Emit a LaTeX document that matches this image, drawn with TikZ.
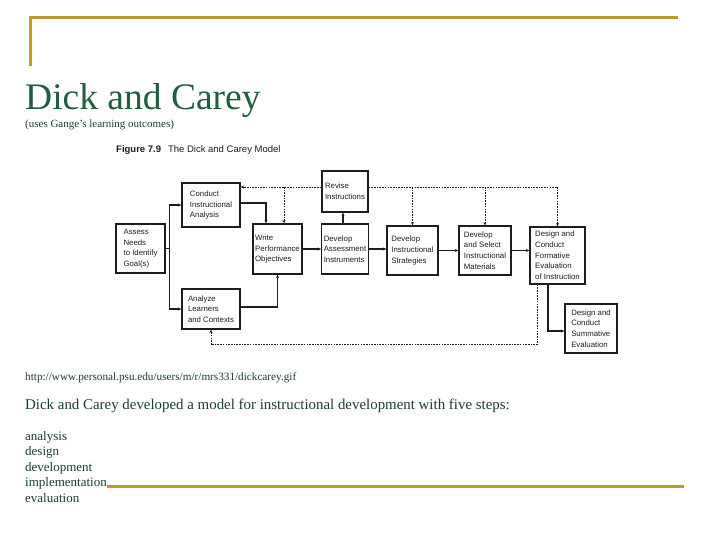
\documentclass[tikz,border=0pt]{standalone}
\usepackage{fontspec}
\setmainfont{Liberation Serif}
\setsansfont{Liberation Sans}
\usetikzlibrary{arrows.meta,positioning,calc}
\definecolor{dcgold}{HTML}{C09A2E}
\definecolor{dcgreen}{HTML}{1F5F3F}
\definecolor{dcbody}{HTML}{1A3F2C}
\definecolor{scan}{HTML}{1E1E1E}
\tikzset{
  stepbox/.style={draw=scan, line width=1.2pt, inner xsep=2pt, inner ysep=1pt,
                  align=left, text=scan, font=\sffamily\fontsize{7.8}{10.7}\selectfont},
  arr/.style={-{Stealth[length=3.5pt,width=3pt]}, line width=1.1pt, color=scan},
  fb/.style={-{Stealth[length=3.5pt,width=3pt]}, line width=0.8pt, color=scan,
             dash pattern=on 1.6pt off 1.1pt},
  rule/.style={draw=dcgold, line width=3pt},
  slide/.style={anchor=base west, inner sep=0pt, text=dcbody}}

\begin{document}
\begin{tikzpicture}[x=1pt, y=-1pt]
  \useasboundingbox[fill=white] (0,0) rectangle (720,540);
  \draw[rule] (30,66) -- (30,18) -- (678,18);
  \node[slide, text=dcgreen, font=\fontsize{37.5}{40}\selectfont] (title) at (25,110) {Dick and Carey};
  \node[slide, font=\fontsize{11}{12}\selectfont] (sub) at (25,128) {(uses Gange's learning outcomes)};

  \node[slide, text=scan, font=\sffamily\fontsize{9.5}{11}\selectfont] (fig) at (116,153)
    {\textbf{Figure 7.9}\hspace{7pt}The Dick and Carey Model};

  \node[stepbox, minimum width=49pt, minimum height=49pt] (assess) at (140.5,248.5)
    {Assess\\Needs\\to Identify\\Goal(s)};
  \node[stepbox, minimum width=58pt, minimum height=44pt] (conduct) at (211,205)
    {Conduct\\Instructional\\Analysis};
  \node[stepbox, minimum width=58pt, minimum height=40pt] (analyze) at (211,309)
    {Analyze\\Learners\\and Contexts};
  \node[stepbox, minimum width=49pt, minimum height=50pt] (write) at (277.5,249)
    {Write\\Performance\\Objectives};
  \node[stepbox, minimum width=46pt, minimum height=41pt] (revise) at (345,191.5)
    {Revise\\Instructions};
  \node[stepbox, minimum width=46pt, minimum height=50pt] (assessment) at (345,249)
    {Develop\\Assessment\\Instruments};
  \node[stepbox, minimum width=51pt, minimum height=49pt] (strategies) at (412.5,250.5)
    {Develop\\Instructional\\Strategies};
  \node[stepbox, minimum width=52pt, minimum height=49pt] (materials) at (485,250.5)
    {Develop\\and Select\\Instructional\\Materials};
  \node[stepbox, minimum width=55pt, minimum height=57pt] (formative) at (557.5,255.5)
    {Design and\\Conduct\\Formative\\Evaluation\\of Instruction};
  \node[stepbox, minimum width=52pt, minimum height=49pt] (summative) at (591,328.5)
    {Design and\\Conduct\\Summative\\Evaluation};

  \coordinate (fork) at ([xshift=4pt]assess.east);
  \draw[line width=1.1pt, color=scan] (assess.east) -- (fork);
  \draw[arr] (fork) |- (conduct.west);
  \draw[arr] (fork) |- (analyze.west);
  \draw[arr] ([yshift=2pt]conduct.east) -| ([xshift=-11.5pt]write.north);
  \draw[arr] ([yshift=2pt]analyze.east) -| (write.south);
  \draw[arr] (write.east) -- (write.east -| assessment.west);
  \draw[arr] (assessment.east) -- (assessment.east -| strategies.west);
  \draw[arr] (strategies.east) -- (strategies.east -| materials.west);
  \draw[arr] (materials.east) -- (materials.east -| formative.west);
  \draw[arr] ([xshift=-2pt]assessment.north) -- ([xshift=-2pt]revise.south);
  \draw[arr] ([xshift=-9.5pt]formative.south) |- ([yshift=-2.5pt]summative.west);

  \coordinate (loop) at ([yshift=4.5pt]revise.west);
  \draw[fb] (loop) -- (loop -| conduct.east);
  \draw[fb] ([yshift=4.5pt]revise.east) -| (formative.north);
  \draw[fb] (loop -| write.north) ++(6.5,0) coordinate (wtop) -- (wtop |- write.north);
  \draw[fb] (loop -| strategies.north) -- (strategies.north);
  \draw[fb] (loop -| materials.north) -- (materials.north);
  \coordinate (ret) at ([yshift=-15pt]analyze.south);
  \draw[fb] ([xshift=-20.5pt]formative.south) |- (ret) -- (analyze.south);

  \node[slide, font=\fontsize{11.2}{12}\selectfont] (url) at (25,380)
    {http://www.personal.psu.edu/users/m/r/mrs331/dickcarey.gif};
  \node[slide, font=\fontsize{14.9}{16}\selectfont] (intro) at (25,409)
    {Dick and Carey developed a model for instructional development with five steps:};
  \node[slide, align=left, font=\fontsize{13}{15.5}\selectfont] (steps) at (25,502)
    {analysis\\design\\development\\implementation\\evaluation};
  \draw[rule] (107,486) -- (684,486);
\end{tikzpicture}
\end{document}
